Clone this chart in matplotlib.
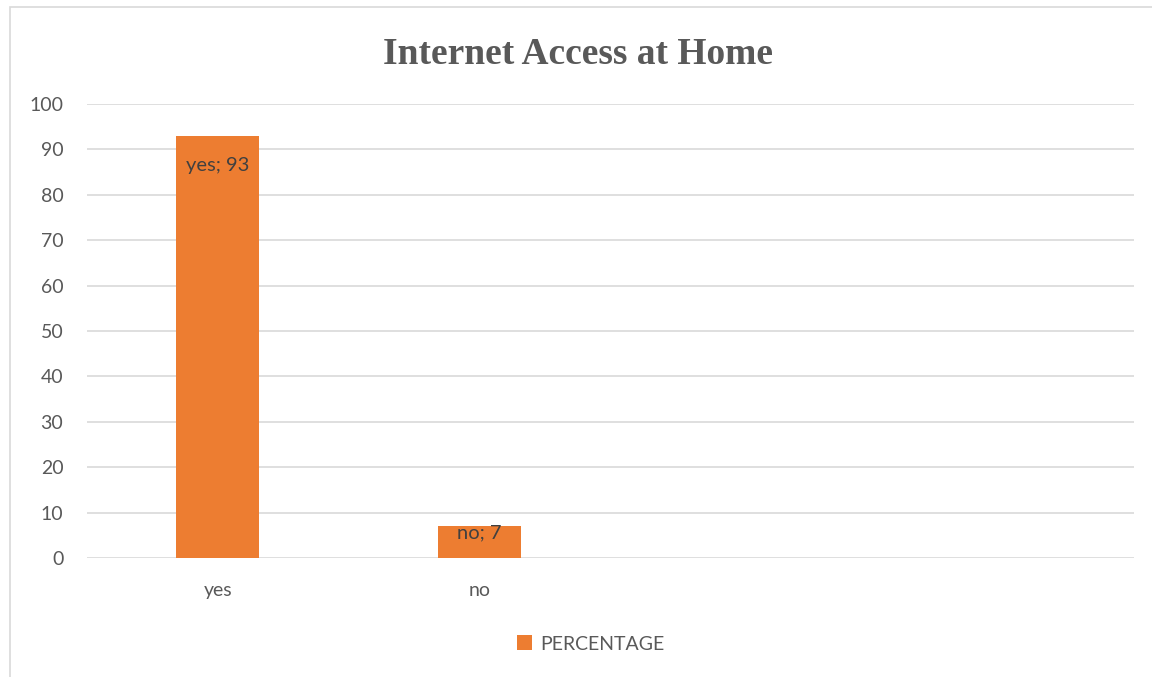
import matplotlib
matplotlib.use("Agg")
import matplotlib.pyplot as plt
from matplotlib.patches import Rectangle

# survey results
categories = ["yes", "no", "", ""]
percentage = [93, 7, None, None]
yticks = [0, 10, 20, 30, 40, 50, 60, 70, 80, 90, 100]
# how far below the bar top each value label sits (points)
label_drop = [21.5, 5, 0, 0]

orange = "#ED7D31"
text_gray = "#595959"
grid_gray = "#D9D9D9"

plt.rcParams["font.family"] = ["Lato", "DejaVu Sans"]

fig = plt.figure(figsize=(11.52, 6.77), dpi=100)
ax = fig.add_axes([0.0755, 0.1758, 0.9085, 0.6706])

# chart border, cut off at the right and bottom
fig.patches.append(Rectangle((10 / 1152, -0.05), 1.2, 1 - 7 / 677 + 0.05,
                             transform=fig.transFigure, fill=False,
                             edgecolor=grid_gray, linewidth=1.2))

xs = range(len(categories))
vals = [v if v is not None else 0 for v in percentage]
bars = ax.bar(xs, vals, width=0.317, color=orange, zorder=3,
              label="PERCENTAGE")

for x, cat, v, d in zip(xs, categories, percentage, label_drop):
    if v is None:
        continue
    ax.annotate(f"{cat}; {v}", (x, v), xytext=(0, -d),
                textcoords="offset points", ha="center", va="center",
                fontsize=14.5, color="#404040", zorder=4)

ax.set_xlim(-0.5, len(categories) - 0.5)
ax.set_ylim(0, 100)
ax.set_yticks(yticks)
ax.set_xticks(list(xs))
ax.set_xticklabels(categories)
ax.tick_params(length=0, labelsize=14, labelcolor=text_gray)
ax.tick_params(axis="y", pad=17)
ax.tick_params(axis="x", pad=17)
ax.grid(axis="y", color=grid_gray, linewidth=1.2, zorder=0)
for s in ax.spines.values():
    s.set_visible(False)

fig.text(0.502, 1 - 54 / 677, "Internet Access at Home", ha="center",
         va="center", fontsize=27, fontweight="bold",
         family="Liberation Serif", color=text_gray)

ax.legend(loc="center", bbox_to_anchor=(0.481, (558 - 644) / 454),
          frameon=False, fontsize=14, labelcolor=text_gray,
          handlelength=0.8, handleheight=0.8, handletextpad=0.4)

fig.savefig("out.png", dpi=100)
